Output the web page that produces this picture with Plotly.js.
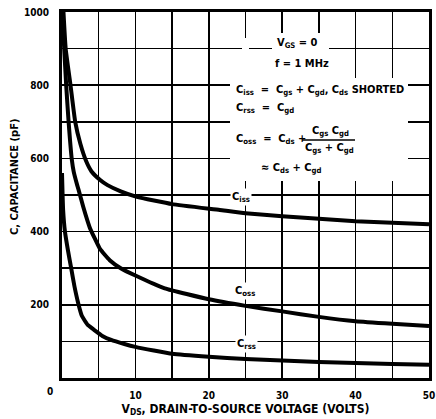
<!DOCTYPE html>
<html>
<head>
<meta charset="utf-8">
<script src="https://cdn.plot.ly/plotly-3.0.1.min.js"></script>
<style>html,body{margin:0;padding:0;background:#fff;}#chart{width:436px;height:419px;}</style>
</head>
<body>
<div id="chart"></div>
<script>
// Drain-to-source voltage (V) and capacitances (pF)
const cissV = [0.2, 0.5, 1.16, 1.8, 2.5, 3.3, 4.0, 5.2, 6.2, 8, 10.2, 15, 21.5, 25, 30, 35, 40, 45, 50];
const cissC = [1000, 900, 800, 700, 640, 592, 565, 541, 527, 510, 495, 475, 459, 450, 442, 435, 428, 424, 420];

const cossV = [0.05, 0.3, 0.57, 0.9, 1.34, 1.6, 2.07, 2.26, 2.9, 3.8, 4.5, 5.2, 6.5, 8, 10, 14, 20, 25, 30, 35, 40, 45, 50];
const cossC = [1000, 900, 800, 700, 596, 563, 527, 514, 467, 410, 380, 352, 322, 300, 280, 245, 215, 197, 182, 167, 155, 148, 142];

const crssV = [0.0, 0.15, 0.4, 0.8, 1.25, 1.7, 2.2, 2.7, 3.5, 4.4, 5.5, 6.7, 8.5, 10, 12.5, 15, 20, 25, 30, 35, 40, 45, 50];
const crssC = [560, 460, 400, 350, 300, 250, 205, 170, 145, 131, 115, 104, 93, 85, 75, 66, 58, 52, 48, 44, 41, 38, 36];

// grid every 5 V / 100 pF, labels every 10 V / 200 pF (origin "0" shown once at the corner)
const xTickVals = [5, 10, 15, 20, 25, 30, 35, 40, 45, 50];
const xTickText = ['', '10', '', '20', '', '30', '', '40', '', '50'];
const yTickVals = [100, 200, 300, 400, 500, 600, 700, 800, 900, 1000];
const yTickText = ['', '200', '', '400', '', '600', '', '800', '', '1000'];

const FONT = "'DejaVu Sans Condensed', 'Liberation Sans Narrow', 'DejaVu Sans', sans-serif";
const lineStyle = {color: '#000', width: 4, shape: 'spline', smoothing: 0.4};

const traces = [
  {x: cissV, y: cissC, mode: 'lines', name: 'Ciss', line: lineStyle},
  {x: cossV, y: cossC, mode: 'lines', name: 'Coss', line: lineStyle},
  {x: crssV, y: crssC, mode: 'lines', name: 'Crss', line: lineStyle}
];

const BLK = 11;
function ann(x, y, text, opts, size) {
  return Object.assign({
    x: x, y: y, xref: 'x', yref: 'y', text: text, showarrow: false,
    font: {family: FONT, size: size || BLK, color: '#000', weight: 'bold'},
    bgcolor: 'rgba(0,0,0,0)', borderpad: 1
  }, opts || {});
}
// convert pixel positions in the 436x419 picture to data units
const X = px => (px - 62) / 367 * 50;
const Y = py => (378 - py) / 366 * 1000;

const annotations = [
  ann(X(297.5), Y(43), 'V<sub>GS</sub> = 0'),
  ann(X(302), Y(63), 'f = 1 MHz'),
  ann(X(234), Y(90), 'C<sub>iss</sub>  =  C<sub>gs</sub> + C<sub>gd</sub>, C<sub>ds</sub> SHORTED', {xanchor: 'left'}),
  ann(X(234), Y(108), 'C<sub>rss</sub>  =  C<sub>gd</sub>', {xanchor: 'left'}),
  ann(X(234), Y(139), 'C<sub>oss</sub>  =  C<sub>ds</sub> +', {xanchor: 'left'}),
  ann(X(330), Y(131), 'C<sub>gs</sub> C<sub>gd</sub>'),
  ann(X(329), Y(148), 'C<sub>gs</sub> + C<sub>gd</sub>'),
  ann(X(259), Y(168), '\u2248 C<sub>ds</sub> + C<sub>gd</sub>', {xanchor: 'left'}),
  ann(X(241), Y(197), 'C<sub>iss</sub>', {bgcolor: '#fff'}),
  ann(X(245), Y(291), 'C<sub>oss</sub>', {bgcolor: '#fff'}),
  ann(X(246), Y(344), 'C<sub>rss</sub>', {bgcolor: '#fff'}),
  {x: (50 - 62) / 367, y: (419 - 391 - 41) / 366, xref: 'paper', yref: 'paper', text: '0', showarrow: false,
   font: {family: FONT, size: 10, color: '#000', weight: 'bold'}, xanchor: 'center', yanchor: 'middle'},
  {x: (15 - 62) / 367, y: (419 - 177 - 41) / 366, xref: 'paper', yref: 'paper', text: 'C, CAPACITANCE (pF)', showarrow: false,
   textangle: -90, font: {family: FONT, size: 11, color: '#000', weight: 'bold'}, xanchor: 'center', yanchor: 'middle'}
];

// white paste-up areas behind the formula block (they interrupt the grid)
function whiteRect(x0, x1, y0, y1) {
  return {type: 'rect', xref: 'x', yref: 'y', layer: 'above',
          x0: X(x0), x1: X(x1), y0: Y(y0), y1: Y(y1),
          fillcolor: '#fff', line: {width: 0}};
}

const layout = {
  width: 436, height: 419,
  margin: {l: 62, r: 7, t: 12, b: 41, pad: 0},
  paper_bgcolor: '#fff', plot_bgcolor: '#fff',
  showlegend: false,
  font: {family: FONT, size: 10, color: '#000', weight: 'bold'},
  xaxis: {
    range: [0, 50], tickmode: 'array', tickvals: xTickVals, ticktext: xTickText,
    showgrid: true, gridcolor: '#000', gridwidth: 1.5,
    showline: true, linecolor: '#000', linewidth: 3, mirror: true,
    ticks: '', zeroline: false, ticklabelstandoff: 6,
    tickfont: {family: FONT, size: 10, color: '#000', weight: 'bold'},
    title: {text: 'V<sub>DS</sub>, DRAIN-TO-SOURCE VOLTAGE (VOLTS)', standoff: 5,
            font: {family: FONT, size: 12, color: '#000', weight: 'bold'}}
  },
  yaxis: {
    range: [0, 1000], tickmode: 'array', tickvals: yTickVals, ticktext: yTickText,
    showgrid: true, gridcolor: '#000', gridwidth: 1.5,
    showline: true, linecolor: '#000', linewidth: 3, mirror: true,
    ticks: '', zeroline: false, ticklabelstandoff: 8,
    tickfont: {family: FONT, size: 10, color: '#000', weight: 'bold'}
  },
  shapes: [
    whiteRect(272, 329, 33, 79),
    whiteRect(242, 249, 38, 79),
    whiteRect(230, 408, 78, 181),
    {type: 'line', xref: 'x', yref: 'y', layer: 'above', x0: X(302), x1: X(355), y0: Y(140), y1: Y(140), line: {color: '#000', width: 1.5}}
  ],
  annotations: annotations
};

Plotly.newPlot('chart', traces, layout, {staticPlot: true, displayModeBar: false});
</script>
</body>
</html>
